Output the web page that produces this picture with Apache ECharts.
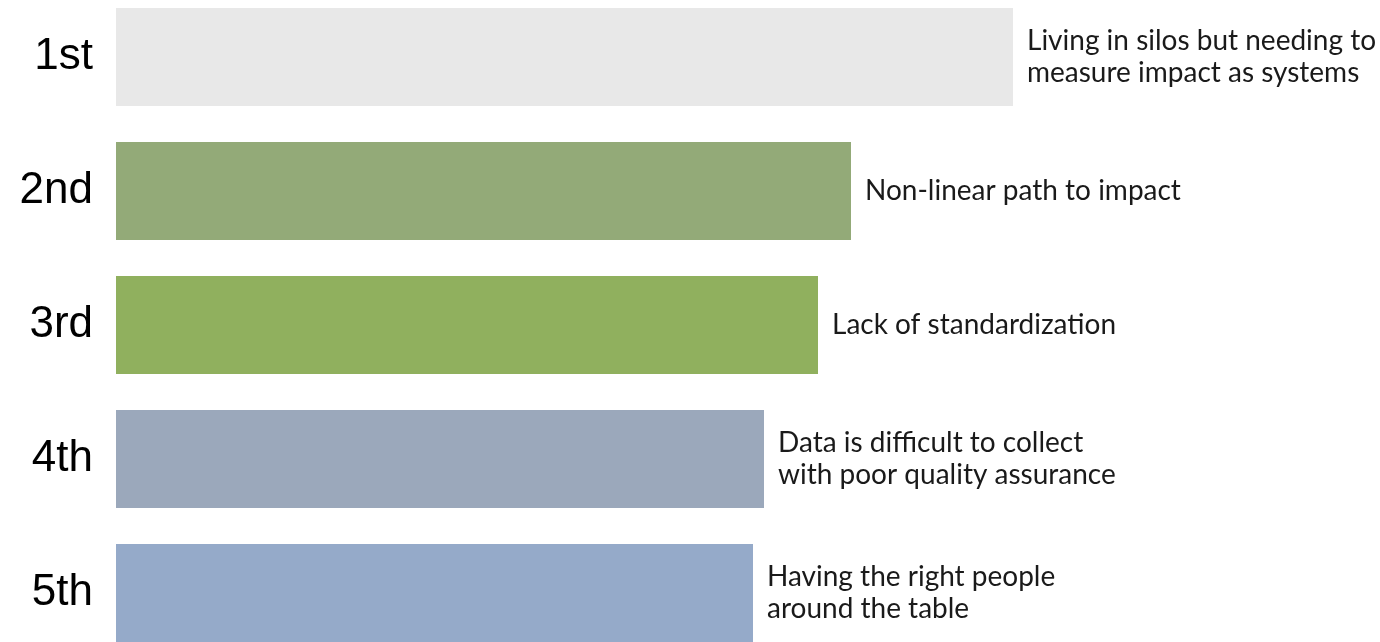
<!DOCTYPE html>
<html>
<head>
<meta charset="utf-8">
<script src="https://cdn.jsdelivr.net/npm/echarts@6/dist/echarts.min.js"></script>
<style>
html,body{margin:0;padding:0;background:#fff;}
#c{width:1380px;height:642px;}
</style>
</head>
<body>
<div id="c"></div>
<script>
const ranks = ['1st', '2nd', '3rd', '4th', '5th'];
const challenges = [
  'Living in silos but needing to\nmeasure impact as systems',
  'Non-linear path to impact',
  'Lack of standardization',
  'Data is difficult to collect\nwith poor quality assurance',
  'Having the right people\naround the table'
];
const scores = [897, 735, 702, 648, 637];
const barColors = ['#e8e8e8', '#93aa78', '#90b05e', '#9ba8bb', '#95aac9'];

const chart = echarts.init(document.getElementById('c'));
chart.setOption({
  animation: false,
  grid: { left: 116, right: 0, top: -10, bottom: -18, containLabel: false, outerBoundsMode: 'none' },
  xAxis: { type: 'value', min: 0, max: 1264, show: false },
  yAxis: {
    type: 'category', data: ranks, inverse: true,
    axisLine: { show: false }, axisTick: { show: false }, splitLine: { show: false },
    axisLabel: { fontFamily: 'Liberation Sans, Arial, sans-serif', fontSize: 44, color: '#000', margin: 23, padding: [12, 0, 0, 0] }
  },
  series: [{
    type: 'bar',
    barWidth: 98,
    data: scores.map((v, i) => ({ value: v, itemStyle: { color: barColors[i] } })),
    label: {
      show: true, position: 'right', distance: 14,
      formatter: p => challenges[p.dataIndex],
      fontFamily: 'Lato, sans-serif', fontSize: 28, lineHeight: 32, color: '#1a1a1a'
    }
  }]
});
</script>
</body>
</html>
